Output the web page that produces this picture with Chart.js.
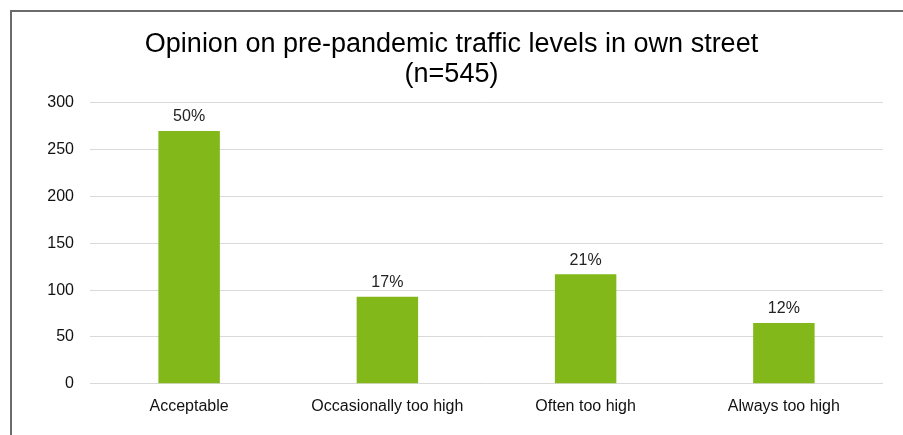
<!DOCTYPE html>
<html lang="en">
<head>
    <meta charset="UTF-8">
    <title>Traffic opinion</title>
    <script src="https://cdn.jsdelivr.net/npm/chart.js@4.4.0/dist/chart.umd.min.js"></script>
    <style>
        body { margin: 0; background: #fff; }
        #wrap { position: relative; width: 903px; height: 435px; }
        #frame {
            position: absolute; left: 10px; top: 10px; right: -4px; bottom: -4px;
            border-left: 2px solid #6b6b6b; border-top: 2px solid #6b6b6b;
        }
        canvas { position: absolute; left: 0; top: 0; }
    </style>
</head>
<body>
<div id="wrap">
    <div id="frame"></div>
    <canvas id="chart" width="903" height="435"></canvas>
</div>

<script>
    const categories = ['Acceptable', 'Occasionally too high', 'Often too high', 'Always too high'];
    const counts = [270, 93, 117, 65];
    const shares = ['50%', '17%', '21%', '12%'];
    const yTicks = [0, 50, 100, 150, 200, 250, 300];

    const font = '"Liberation Sans", Arial, sans-serif';

    const barLabels = {
        id: 'barLabels',
        afterDatasetsDraw(chart) {
            const ctx = chart.ctx;
            const meta = chart.getDatasetMeta(0);
            ctx.save();
            ctx.font = '16px ' + font;
            ctx.fillStyle = '#222';
            ctx.textAlign = 'center';
            ctx.textBaseline = 'bottom';
            meta.data.forEach((bar, i) => {
                ctx.fillText(shares[i], bar.x, bar.y - 6);
            });
            ctx.restore();
        }
    };

    new Chart(document.getElementById('chart'), {
        type: 'bar',
        data: {
            labels: categories,
            datasets: [{
                data: counts,
                backgroundColor: '#82b81a',
                categoryPercentage: 1,
                barPercentage: 0.31
            }]
        },
        options: {
            responsive: false,
            animation: false,
            layout: { padding: { left: 20, right: 20, top: 30, bottom: 6 } },
            scales: {
                x: {
                    grid: { display: false, drawTicks: false },
                    border: { display: false },
                    ticks: { color: '#111', font: { family: font, size: 16 }, padding: 13 }
                },
                y: {
                    min: 0,
                    max: 300,
                    afterBuildTicks: axis => { axis.ticks = yTicks.map(v => ({ value: v })); },
                    afterFit: axis => { axis.width = 70; },
                    grid: { color: '#d9d9d9', drawTicks: false },
                    border: { display: false },
                    ticks: { color: '#111', font: { family: font, size: 16 }, padding: 16 }
                }
            },
            plugins: {
                legend: { display: false },
                tooltip: { enabled: false },
                title: {
                    display: true,
                    text: ['Opinion on pre-pandemic traffic levels in own street', '(n=545)'],
                    color: '#000',
                    font: { family: font, size: 27, weight: 'normal', lineHeight: 1.111 },
                    padding: { top: 0, bottom: 13 }
                }
            }
        },
        plugins: [barLabels]
    });
</script>
</body>
</html>
